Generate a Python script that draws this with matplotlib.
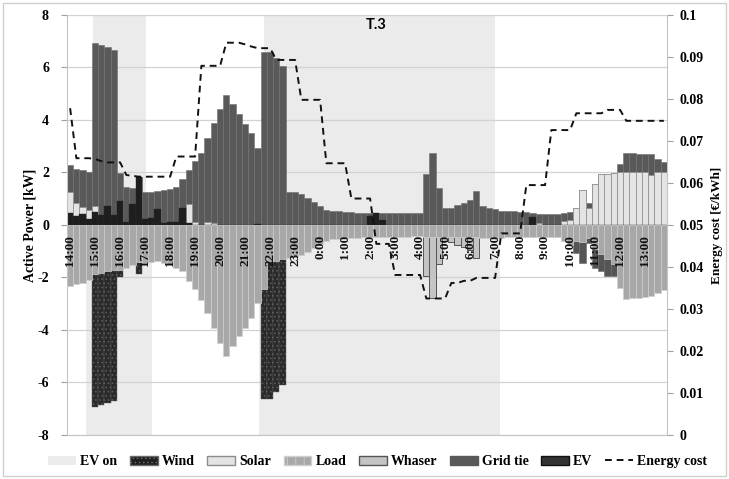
import numpy as np
import matplotlib.pyplot as plt
from matplotlib.patches import Patch, Rectangle
from matplotlib.lines import Line2D
from matplotlib.ticker import FuncFormatter, MultipleLocator

plt.rcParams['font.family'] = ['Liberation Serif', 'DejaVu Serif']
plt.rcParams['hatch.linewidth'] = 0.6

# hour labels, one every 4 quarter-hour bars
hour_labels = ['14:00', '15:00', '16:00', '17:00', '18:00', '19:00', '20:00', '21:00',
               '22:00', '23:00', '0:00', '1:00', '2:00', '3:00', '4:00', '5:00',
               '6:00', '7:00', '8:00', '9:00', '10:00', '11:00', '12:00', '13:00']

# positive stack tops (kW)
grid_top = [2.29, 2.15, 2.10, 2.02, 6.92, 6.86, 6.77, 6.68, 1.98, 1.46, 1.40, 1.84,
            1.27, 1.27, 1.30, 1.35, 1.38, 1.45, 1.77, 2.09, 2.42, 2.76, 3.33, 3.87,
            4.42, 4.95, 4.60, 4.22, 3.84, 3.49, 2.95, 6.60, 6.60, 6.36, 6.07, 1.27,
            1.24, 1.17, 1.04, 0.89, 0.72, 0.56, 0.54, 0.52, 0.50, 0.48, 0.47, 0.47,
            0.46, 0.46, 0.45, 0.45, 0.44, 0.44, 0.44, 0.44, 0.44, 1.93, 2.74, 1.42,
            0.66, 0.66, 0.76, 0.85, 0.96, 1.30, 0.72, 0.66, 0.60, 0.53, 0.52, 0.52,
            0.50, 0.48, 0.45, 0.43, 0.41, 0.41, 0.41, 0.45, 0.50, 0.66, 1.33, 0.85,
            1.58, 1.93, 1.96, 1.98, 2.34, 2.74, 2.74, 2.72, 2.72, 2.70, 2.53, 2.40]
solar_top = [1.26, 0.85, 0.69, 0.56, 0.73, 0, 0, 0, 0, 0, 0, 0,
             0, 0, 0, 0, 0, 0, 0, 0.79, 0.13, 0, 0.10, 0.08,
             0, 0, 0, 0, 0, 0, 0, 0, 0, 0, 0, 0,
             0, 0, 0, 0, 0, 0, 0, 0, 0, 0, 0, 0,
             0, 0, 0, 0, 0, 0, 0, 0, 0, 0, 0, 0,
             0, 0, 0, 0, 0, 0, 0, 0, 0, 0, 0, 0,
             0, 0, 0, 0.08, 0, 0, 0, 0.16, 0.20, 0.66, 1.33, 0.63,
             1.58, 1.93, 1.96, 1.98, 2.00, 2.00, 2.00, 2.00, 2.00, 1.91, 2.02, 2.02]
wind_top = [0.47, 0.34, 0.41, 0.22, 0.51, 0.37, 0.74, 0.37, 0.92, 0.13, 0.81, 1.84,
            0.22, 0.28, 0.60, 0.08, 0.13, 0.13, 0.64, 0.08, 0, 0, 0, 0,
            0, 0, 0, 0, 0, 0, 0.05, 0, 0, 0, 0, 0,
            0, 0, 0, 0, 0, 0, 0, 0, 0, 0, 0, 0,
            0.35, 0.45, 0.20, 0, 0, 0, 0, 0, 0, 0, 0, 0,
            0, 0, 0, 0, 0, 0, 0, 0, 0, 0, 0, 0,
            0, 0, 0.30, 0, 0, 0, 0, 0, 0, 0, 0, 0,
            0, 0, 0, 0, 0, 0, 0, 0, 0, 0, 0, 0]

# negative stack bottoms (kW)
load_bot = [-2.33, -2.26, -2.20, -2.11, -1.88, -1.82, -1.76, -1.72, -1.70, -1.63, -1.53, -1.40,
            -1.44, -1.40, -1.37, -1.44, -1.50, -1.63, -1.75, -2.12, -2.45, -2.85, -3.35, -3.92,
            -4.49, -5.00, -4.62, -4.24, -3.92, -3.54, -2.96, -2.44, -1.37, -1.37, -1.30, -1.27,
            -1.22, -1.15, -1.04, -0.87, -0.74, -0.60, -0.55, -0.52, -0.50, -0.48, -0.48, -0.47,
            -0.47, -0.47, -0.46, -0.46, -0.45, -0.44, -0.44, -0.43, -0.43, -0.45, -0.45, -0.45,
            -0.45, -0.45, -0.44, -0.45, -0.46, -0.46, -0.50, -0.50, -0.49, -0.48, -0.47, -0.46,
            -0.45, -0.45, -0.45, -0.44, -0.44, -0.44, -0.45, -0.60, -0.75, -0.60, -0.65, -0.50,
            -0.90, -1.10, -1.30, -1.50, -2.39, -2.81, -2.80, -2.78, -2.76, -2.72, -2.58, -2.49]
whaser_bot = [0] * 57 + [-1.95, -2.80, -1.50, -0.60, -0.66, -0.76, -0.85, -0.96, -1.25] + [0] * 30
gridneg_bot = [0] * 81 + [-1.06, -1.45, -0.70, -1.65, -1.75, -1.95, -1.95] + [0] * 8
ev_bot = [0, 0, 0, 0, -6.93, -6.85, -6.78, -6.69, -2.00, 0, 0, -1.86,
          0, 0, 0, 0, 0, 0, 0, 0, 0, 0, 0, 0,
          0, 0, 0, 0, 0, 0, 0, -6.62, -6.62, -6.37, -6.08, 0] + [0] * 60

# energy cost (EUR/kWh)
energy_cost = [0.0778, 0.0659, 0.0659, 0.0659, 0.0657, 0.0652, 0.0649, 0.0649, 0.0649,
               0.0619, 0.0617, 0.0615, 0.0615, 0.0615, 0.0615, 0.0615, 0.0615,
               0.0663, 0.0663, 0.0663, 0.0663, 0.0879, 0.0879, 0.0879, 0.0879,
               0.0934, 0.0934, 0.0934, 0.0930, 0.0925, 0.0921, 0.0921, 0.0921,
               0.0893, 0.0893, 0.0893, 0.0893, 0.0798, 0.0798, 0.0798, 0.0798,
               0.0647, 0.0647, 0.0647, 0.0647, 0.0563, 0.0563, 0.0563, 0.0563,
               0.0455, 0.0455, 0.0455, 0.0381, 0.0381, 0.0381, 0.0381, 0.0381,
               0.0325, 0.0325, 0.0325, 0.0325, 0.0362, 0.0362, 0.0367, 0.0367,
               0.0374, 0.0374, 0.0374, 0.0374, 0.0480, 0.0480, 0.0480, 0.0480,
               0.0595, 0.0595, 0.0595, 0.0595, 0.0726, 0.0726, 0.0726, 0.0726,
               0.0766, 0.0766, 0.0766, 0.0766, 0.0766, 0.0774, 0.0774, 0.0774,
               0.0748, 0.0748, 0.0748, 0.0748, 0.0748, 0.0748, 0.0748]

# EV on periods (bar units), upper and lower halves
ev_on_top = [(3.64, 12.14), (31.02, 67.98)]
ev_on_bot = [(2.52, 13.10), (30.22, 68.78)]

x = np.arange(len(grid_top))

fig = plt.figure(figsize=(7.29, 4.79), dpi=100)
ax = fig.add_axes([0.0919, 0.0919, 0.823, 0.8768])

c_span = '#ebebeb'
for a, b in ev_on_top:
    ax.fill_between([a, b], 0, 8, color=c_span, lw=0, zorder=0.2)
for a, b in ev_on_bot:
    ax.fill_between([a, b], -8, 0, color=c_span, lw=0, zorder=0.2)

# positive side
ax.bar(x, grid_top, width=1.0, color='#595959', edgecolor='#707070', linewidth=0.4, zorder=2)
ax.bar(x, solar_top, width=1.0, color='#e4e4e4', edgecolor='#8c8c8c', linewidth=0.5, zorder=2.1)
ax.bar(x, wind_top, width=1.0, color='#1e1e1e', edgecolor='#2a2a2a', linewidth=0.3, zorder=2.2)

# negative side
ax.bar(x, ev_bot, width=1.0, color='#2a2a2a', edgecolor='#5e5e5e', hatch='....',
       linewidth=0.3, zorder=2)
ax.bar(x, gridneg_bot, width=1.0, color='#555555', edgecolor='#6a6a6a', linewidth=0.4, zorder=2.05)
ax.bar(x, whaser_bot, width=1.0, color='#c4c4c4', edgecolor='#555555', linewidth=0.7, zorder=2.1)
ax.bar(x, load_bot, width=1.0, color='#a8a8a8', edgecolor='#cfcfcf', linewidth=0.5, zorder=2.2)

ax.set_xlim(-0.5, len(x) - 0.5)
ax.set_ylim(-8, 8)
ax.yaxis.set_major_locator(MultipleLocator(2))
ax.set_xticks([])
ax.yaxis.grid(True, color='#d2d2d2', linewidth=0.9)
ax.set_axisbelow(True)
for s in ['top', 'right']:
    ax.spines[s].set_visible(False)
for s in ['left', 'bottom']:
    ax.spines[s].set_color('#c4c4c4')
ax.tick_params(axis='y', length=4, color='#a0a0a0', pad=9, labelsize=10)
for t in ax.get_yticklabels():
    t.set_fontweight('bold')
ax.yaxis.set_major_formatter(FuncFormatter(lambda v, p: '%d' % v))
ax.set_ylabel('Active Power [kW]', fontsize=10, fontweight='bold')
ax.yaxis.set_label_coords(-0.05, 0.5)

for k, lab in enumerate(hour_labels):
    ax.text(4 * k, -0.38, lab, rotation=90, ha='center', va='top', fontsize=9.5,
            fontweight='bold', color='#111111', zorder=5)

ax.text(0.515, 0.992, 'T.3', transform=ax.transAxes, ha='center', va='top',
        fontsize=10.5, fontweight='bold', family=['Lato', 'DejaVu Sans'], zorder=6)

ax2 = ax.twinx()
ax2.plot(x, energy_cost, color='#111111', linewidth=1.4, linestyle=(0, (3.5, 2.5)), zorder=4)
ax2.set_ylim(0, 0.1)
ax2.yaxis.set_major_locator(MultipleLocator(0.01))
ax2.yaxis.set_major_formatter(FuncFormatter(lambda v, p: '%g' % round(v, 2)))
for s in ['top', 'left', 'bottom']:
    ax2.spines[s].set_visible(False)
ax2.spines['right'].set_color('#c4c4c4')
ax2.tick_params(axis='y', length=4, color='#a0a0a0', pad=5, labelsize=10)
for t in ax2.get_yticklabels():
    t.set_fontweight('bold')
ax2.set_ylabel('Energy cost [€/kWh]', fontsize=9.5, fontweight='bold')
ax2.yaxis.set_label_coords(1.074, 0.5)

handles = [
    Patch(facecolor=c_span, edgecolor='none', label='EV on'),
    Patch(facecolor='#1e1e1e', edgecolor='#6a6a6a', hatch='....', label='Wind'),
    Patch(facecolor='#e4e4e4', edgecolor='#8c8c8c', label='Solar'),
    Patch(facecolor='#a8a8a8', edgecolor='#cfcfcf', hatch='||', label='Load'),
    Patch(facecolor='#c4c4c4', edgecolor='#555555', label='Whaser'),
    Patch(facecolor='#595959', edgecolor='#595959', label='Grid tie'),
    Patch(facecolor='#333333', edgecolor='#111111', label='EV'),
    Line2D([0], [0], color='#111111', linewidth=1.4, linestyle=(0, (3.5, 2.5)), label='Energy cost'),
]
fig.legend(handles=handles, loc='center', bbox_to_anchor=(0.518, 0.036), ncol=8, frameon=False,
           prop={'weight': 'bold', 'size': 10}, handlelength=2.0, handleheight=0.7,
           handletextpad=0.3, columnspacing=0.9)

fig.patches.append(Rectangle((0.004, 0.006), 0.992, 0.988, transform=fig.transFigure,
                             fill=False, edgecolor='#cfcfcf', linewidth=1.0))

fig.savefig('out.png', dpi=100)
